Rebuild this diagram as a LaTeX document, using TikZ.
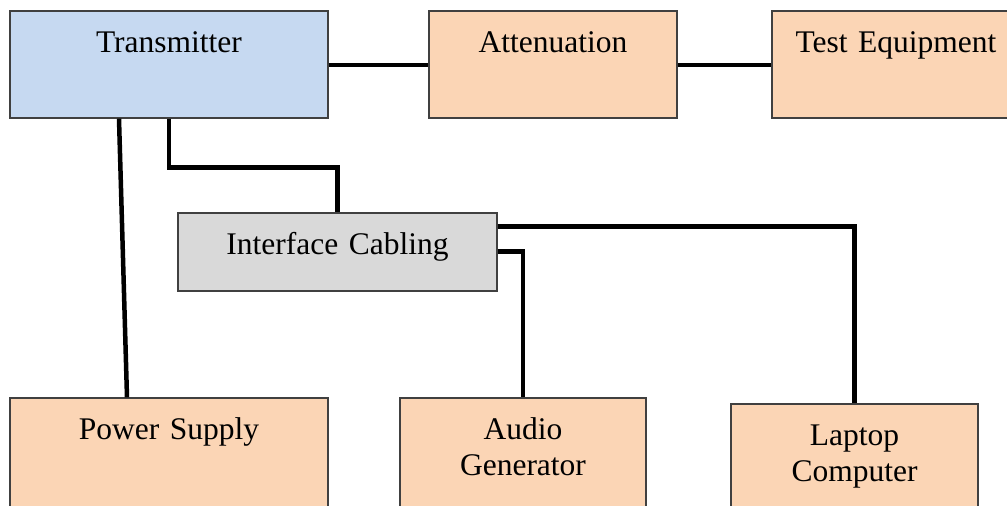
\documentclass[tikz,border=0pt]{standalone}
\usepackage{fontspec}
\setmainfont{Liberation Serif}
\usetikzlibrary{positioning, calc}

\definecolor{txblue}{HTML}{C6D9F1}
\definecolor{unitorange}{HTML}{FBD5B5}
\definecolor{cablegray}{HTML}{D9D9D9}
\definecolor{edgegray}{HTML}{404040}

\tikzset{
  unit/.style={draw=edgegray, line width=1.4pt, inner sep=0pt, align=center,
               font=\fontsize{31.5}{36}\selectfont, text height=41pt},
  wire/.style={line width=4.5pt, black},
}

\begin{document}
\begin{tikzpicture}[x=1pt, y=-1pt]
  \useasboundingbox (0,0) rectangle (1007,506);

  % Top row
  \node[unit, fill=txblue, text width=318pt, text depth=66pt] (tx) at (169,64.5) {Transmitter};
  \node[unit, fill=unitorange, text width=248pt, text depth=66pt] (att) at (553,64.5) {Attenuation};
  \node[unit, fill=unitorange, text width=248pt, text depth=66pt] (teq) at (896,64.5) {Test Equipment};

  % Cabling box
  \node[unit, fill=cablegray, text width=319pt, text depth=37pt] (ic) at (337.5,252) {Interface Cabling};

  % Bottom row
  \node[unit, fill=unitorange, text width=318pt, text depth=81pt] (ps) at (169,459) {Power Supply};
  \node[unit, fill=unitorange, text width=246pt, text depth=81pt] (aud) at (523,459) {Audio\\Generator};
  \node[unit, fill=unitorange, text width=247pt, text depth=75pt] (lap) at (854.5,462) {Laptop\\Computer};

  % Connections
  \draw[wire] (tx.east |- 0,65) -- (att.west |- 0,65);
  \draw[wire] (att.east |- 0,65) -- (teq.west |- 0,65);
  \draw[wire] (tx.south) -- ++(0,49) -| (ic.north);
  \draw[wire] ([xshift=-50pt]tx.south) -- ([xshift=-42pt]ps.north);
  \draw[wire] ([yshift=-14pt]ic.north east) -| (lap.north);
  \draw[wire] ([yshift=-39pt]ic.north east) -| (aud.north);
\end{tikzpicture}
\end{document}
